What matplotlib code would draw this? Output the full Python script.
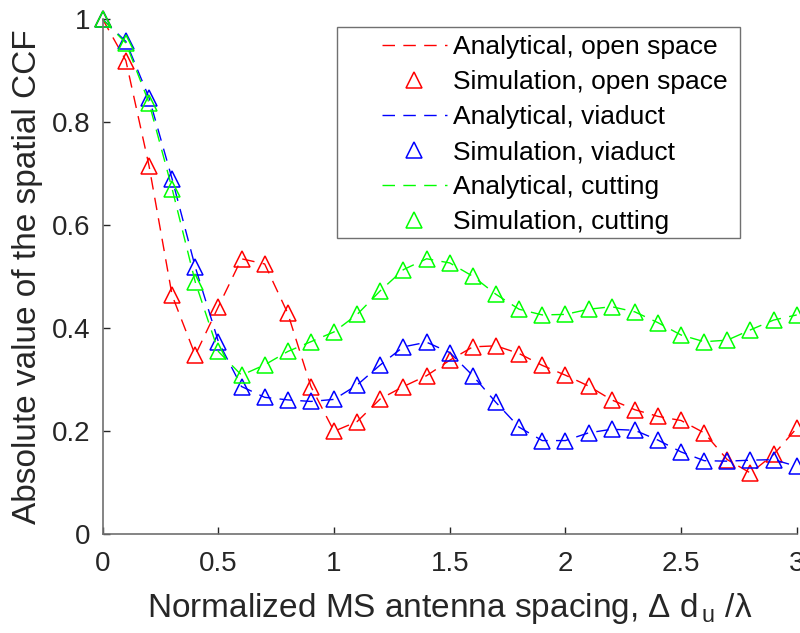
import numpy as np
import matplotlib
matplotlib.use('Agg')
import matplotlib.pyplot as plt
from matplotlib.patches import Rectangle

plt.rcParams['font.family'] = ['Liberation Sans', 'DejaVu Sans']
plt.rcParams['mathtext.fontset'] = 'custom'
plt.rcParams['mathtext.rm'] = 'Liberation Sans'
plt.rcParams['mathtext.it'] = 'Liberation Sans:italic'

# normalized antenna spacing
spacing = [0.0, 0.1, 0.2, 0.3, 0.4, 0.5, 0.6, 0.7, 0.8, 0.9, 1.0,
           1.1, 1.2, 1.3, 1.4, 1.5, 1.6, 1.7, 1.8, 1.9, 2.0,
           2.1, 2.2, 2.3, 2.4, 2.5, 2.6, 2.7, 2.8, 2.9, 3.0]

# absolute value of spatial CCF
open_space = [1.000, 0.920, 0.716, 0.464, 0.348, 0.442, 0.535, 0.525, 0.429, 0.287, 0.200,
              0.219, 0.263, 0.287, 0.308, 0.338, 0.364, 0.366, 0.351, 0.328, 0.309,
              0.288, 0.261, 0.242, 0.229, 0.221, 0.197, 0.145, 0.119, 0.155, 0.206]
viaduct = [1.000, 0.957, 0.848, 0.690, 0.519, 0.374, 0.287, 0.266, 0.261, 0.258, 0.262,
           0.290, 0.329, 0.364, 0.373, 0.353, 0.308, 0.256, 0.208, 0.182, 0.182,
           0.197, 0.204, 0.202, 0.183, 0.160, 0.143, 0.142, 0.144, 0.145, 0.132]
cutting = [1.000, 0.954, 0.838, 0.671, 0.490, 0.355, 0.309, 0.329, 0.355, 0.374, 0.393,
           0.427, 0.473, 0.514, 0.535, 0.527, 0.501, 0.466, 0.437, 0.426, 0.427,
           0.437, 0.442, 0.432, 0.411, 0.387, 0.374, 0.377, 0.397, 0.416, 0.426]

labels = ['open space', 'viaduct', 'cutting']
colors = ['#ff0000', '#0000ff', '#00ff00']

fig = plt.figure(figsize=(8, 6.33), dpi=100)
ax = fig.add_axes([0.1284, 0.1559, 0.8675, 0.8136])

for data, name, c in zip([open_space, viaduct, cutting], labels, colors):
    ax.plot(spacing, data, color=c, linewidth=1.0, linestyle=(0, (9, 6)),
            label='Analytical, ' + name, clip_on=False)
    ax.plot(spacing, data, linestyle='none', marker='^', markersize=11,
            markerfacecolor='none', markeredgecolor=c, markeredgewidth=1.1,
            label='Simulation, ' + name, clip_on=False)

ax.set_xlim(0, 3)
ax.set_ylim(0, 1)
ax.set_xticks(np.linspace(0, 3, 7))
ax.set_xticklabels(['0', '0.5', '1', '1.5', '2', '2.5', '3'])
ax.set_yticks(np.linspace(0, 1, 6))
ax.set_yticklabels(['0', '0.2', '0.4', '0.6', '0.8', '1'])
ax.tick_params(direction='in', length=5, width=1, colors='#262626', labelsize=20)
ax.tick_params(axis='x', pad=12)
ax.tick_params(axis='y', pad=9)
for s in ['top', 'right']:
    ax.spines[s].set_visible(False)
for s in ['left', 'bottom']:
    ax.spines[s].set_color('#707070')
    ax.spines[s].set_linewidth(1.2)

ax.set_xlabel('Normalized MS antenna spacing, \u0394 d$_{\\,\\mathrm{u}}$ /\u03bb', fontsize=24,
              color='#262626', labelpad=10)
ax.set_ylabel('Absolute value of the spatial CCF', fontsize=24, color='#262626', labelpad=6)

leg = ax.legend(loc='upper left', bbox_to_anchor=(382 / 800, 1 - 35 / 633),
                bbox_transform=fig.transFigure, fontsize=19, frameon=False,
                handlelength=2.45, labelspacing=0.42, handletextpad=0.25,
                borderpad=0, borderaxespad=0)
# legend box, drawn separately to get the wide left margin
fig.patches.append(Rectangle((337 / 800, 1 - 238 / 633), 403 / 800, 211 / 633,
                             transform=fig.transFigure, fill=False,
                             edgecolor='#707070', linewidth=1.0))

plt.savefig('out.png', dpi=100)
